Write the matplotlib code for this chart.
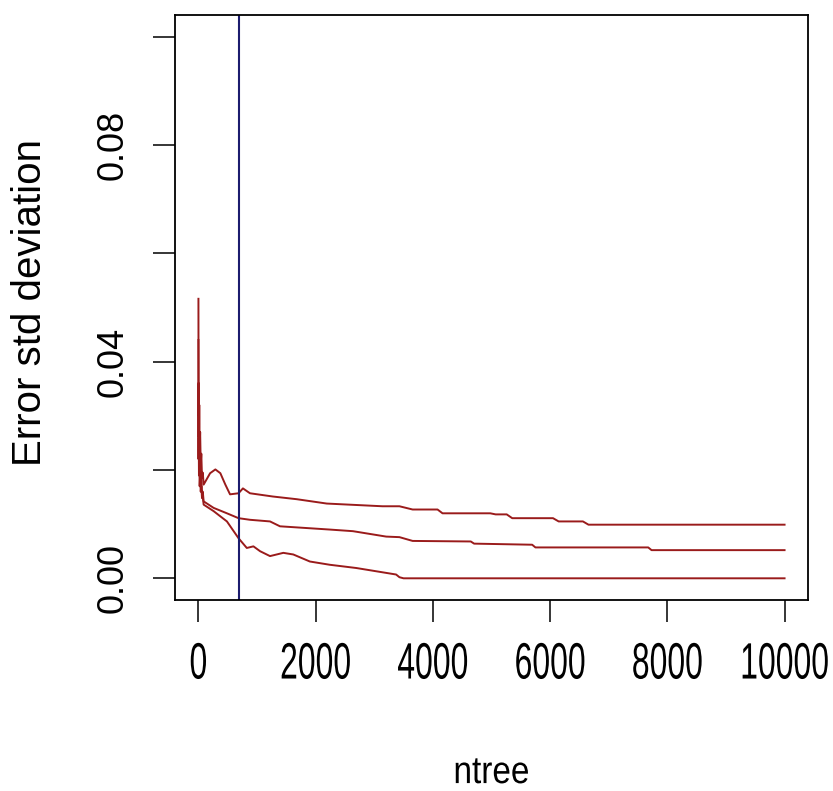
import matplotlib
matplotlib.use("Agg")
from matplotlib import pyplot as plt
from matplotlib import patheffects
from matplotlib.transforms import Affine2D

# number of trees at each read-off point, and error std deviation of the three curves
ntree_upper = [1, 3, 6, 10, 15, 22, 30, 40, 50, 62, 75, 90, 200, 290, 375, 460, 540, 685,
               760, 880, 1270, 1680, 2190, 3140, 3430, 3655, 4080, 4165, 4980, 5071, 5260,
               5354, 6050, 6146, 6560, 6655, 10000]
err_upper = [0.0516, 0.030, 0.036, 0.026, 0.032, 0.024, 0.027, 0.021, 0.023, 0.0185, 0.0195,
             0.0173, 0.0194, 0.0201, 0.0194, 0.0173, 0.0155, 0.0157, 0.0166, 0.0157, 0.0151,
             0.0146, 0.0138, 0.0133, 0.0133, 0.0127, 0.0127, 0.0120, 0.0120, 0.0118, 0.0118,
             0.0111, 0.0111, 0.0105, 0.0105, 0.0099, 0.0099]

ntree_mid = [1, 3, 6, 10, 15, 22, 30, 40, 50, 62, 75, 90, 260, 487, 685, 883, 1222, 1392,
             2241, 2637, 3204, 3430, 3655, 4647, 4704, 5694, 5750, 7674, 7731, 10000]
err_mid = [0.044, 0.026, 0.031, 0.022, 0.027, 0.020, 0.022, 0.018, 0.019, 0.0155, 0.016,
           0.0142, 0.0130, 0.0120, 0.0111, 0.0108, 0.0105, 0.0096, 0.0090, 0.0087, 0.0077,
           0.0076, 0.0069, 0.0068, 0.0064, 0.0062, 0.0057, 0.0057, 0.0052, 0.0052]

ntree_low = [1, 3, 6, 10, 15, 22, 30, 40, 50, 62, 75, 90, 260, 487, 685, 826, 939, 1053,
             1222, 1449, 1619, 1902, 2241, 2694, 3373, 3430, 3500, 10000]
err_low = [0.036, 0.022, 0.026, 0.019, 0.023, 0.017, 0.019, 0.016, 0.017, 0.0148, 0.015,
           0.0136, 0.0124, 0.0105, 0.0074, 0.0056, 0.0059, 0.0050, 0.0041, 0.0047, 0.0044,
           0.0031, 0.0025, 0.0019, 0.0007, 0.0002, 0.0, 0.0]

best_ntree = 685

x_ticks = [0, 2000, 4000, 6000, 8000, 10000]
y_ticks = [0.0, 0.02, 0.04, 0.06, 0.08, 0.10]
y_tick_labels = ["0.00", "", "0.04", "", "0.08", ""]

font = ["Liberation Sans", "DejaVu Sans"]


class TallText(patheffects.AbstractPathEffect):
    """Stretch glyphs upward from the baseline (the reference uses a narrow, tall face)."""

    def __init__(self, sy):
        super().__init__()
        self.sy = sy

    def draw_path(self, renderer, gc, tpath, affine, rgbFace=None):
        renderer.draw_path(gc, tpath, Affine2D().scale(1, self.sy) + affine, rgbFace)


fig = plt.figure(figsize=(8.33, 7.91), dpi=100)
ax = fig.add_axes([0.210, 0.2415, 0.760, 0.7396])

line_col = "#9a1b1b"
ax.plot(ntree_upper, err_upper, color=line_col, lw=1.4)
ax.plot(ntree_mid, err_mid, color=line_col, lw=1.4)
ax.plot(ntree_low, err_low, color=line_col, lw=1.4)
ax.axvline(best_ntree, color="#1c1c6e", lw=1.5)

ax.set_xlim(-400, 10400)
ax.set_ylim(-0.004, 0.104)

ax.set_xticks(x_ticks)
ax.set_xticklabels([str(t) for t in x_ticks], family=font, fontsize=23)
for lab in ax.get_xticklabels():
    lab.set_path_effects([TallText(1.6)])
ax.set_yticks(y_ticks)
ax.set_yticklabels(y_tick_labels, family=font, fontsize=26, rotation=90, va="center")

ax.tick_params(axis="both", direction="out", length=16, width=1.1, color="black")
ax.tick_params(axis="x", pad=24)
ax.tick_params(axis="y", pad=16)
for s in ax.spines.values():
    s.set_linewidth(1.3)
    s.set_color("black")

ax.set_xlabel("ntree", family=font, fontsize=24)
ax.xaxis.label.set_va("baseline")
ax.xaxis.label.set_path_effects([TallText(1.15)])
ax.xaxis.set_label_coords(0.5, -0.313)
ax.set_ylabel("Error std deviation", family=font, fontsize=29)
ax.yaxis.set_label_coords(-0.229, 0.509)
ax.yaxis.label.set_va("center")

fig.savefig("out.png", dpi=100)
